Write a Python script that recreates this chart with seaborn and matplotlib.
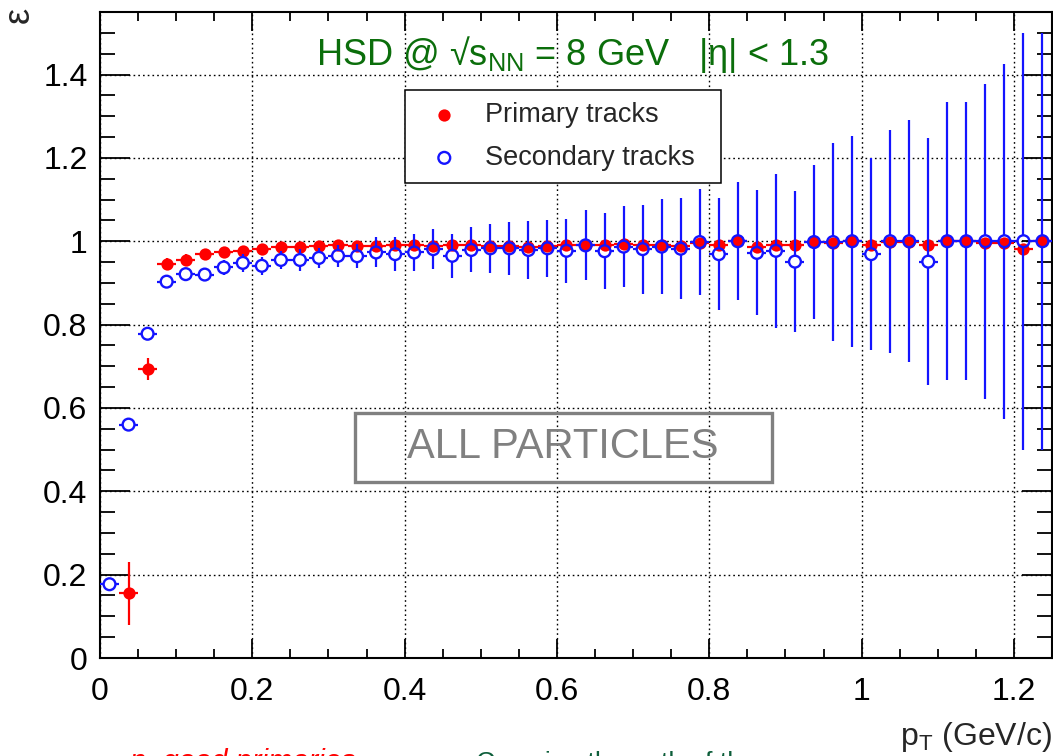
import numpy as np
import matplotlib
matplotlib.use("Agg")
import matplotlib.pyplot as plt
from matplotlib.patches import Rectangle
from matplotlib.ticker import MultipleLocator, FuncFormatter
import seaborn as sns

# transverse-momentum bin centres (GeV/c), 0.025 wide bins
pt = [0.0125, 0.0375, 0.0625, 0.0875, 0.1125, 0.1375, 0.1625, 0.1875, 0.2125, 0.2375,
      0.2625, 0.2875, 0.3125, 0.3375, 0.3625, 0.3875, 0.4125, 0.4375, 0.4625, 0.4875,
      0.5125, 0.5375, 0.5625, 0.5875, 0.6125, 0.6375, 0.6625, 0.6875, 0.7125, 0.7375,
      0.7625, 0.7875, 0.8125, 0.8375, 0.8625, 0.8875, 0.9125, 0.9375, 0.9625, 0.9875,
      1.0125, 1.0375, 1.0625, 1.0875, 1.1125, 1.1375, 1.1625, 1.1875, 1.2125, 1.2375]
pt_halfwidth = 0.0125

# reconstruction efficiency of primary tracks
prim_eff = [np.nan, 0.155, 0.694, 0.945, 0.956, 0.969, 0.975, 0.977, 0.981, 0.986,
            0.987, 0.988, 0.991, 0.989, 0.989, 0.992, 0.992, 0.989, 0.990, 0.991,
            0.988, 0.989, 0.986, 0.989, 0.990, 0.991, 0.991, 0.994, 0.991, 0.991,
            0.988, 0.995, 0.991, 1.000, 0.987, 0.991, 0.992, 0.997, 0.995, 1.000,
            0.991, 0.997, 0.997, 0.991, 1.000, 1.000, 0.995, 0.995, 0.981, 1.000]
prim_err = [np.nan, 0.075, 0.027, 0.015, 0.013, 0.011, 0.010, 0.009, 0.008, 0.007,
            0.007, 0.007, 0.007, 0.007, 0.007, 0.007, 0.007, 0.007, 0.007, 0.007,
            0.008, 0.008, 0.008, 0.008, 0.008, 0.008, 0.008, 0.008, 0.008, 0.008,
            0.008, 0.008, 0.009, 0.009, 0.009, 0.009, 0.010, 0.010, 0.010, 0.010,
            0.010, 0.010, 0.010, 0.010, 0.010, 0.010, 0.010, 0.010, 0.011, 0.011]

# reconstruction efficiency of secondary tracks
sec_eff = [0.177, 0.560, 0.778, 0.903, 0.921, 0.920, 0.937, 0.948, 0.941, 0.955,
           0.955, 0.960, 0.965, 0.964, 0.973, 0.969, 0.973, 0.981, 0.965, 0.979,
           0.983, 0.983, 0.979, 0.983, 0.977, 0.990, 0.976, 0.987, 0.981, 0.987,
           0.982, 0.998, 0.969, 1.000, 0.972, 0.977, 0.951, 0.998, 0.998, 1.000,
           0.969, 1.000, 1.000, 0.951, 1.000, 1.000, 1.000, 1.000, 1.000, 1.000]
sec_err = [0.006, 0.008, 0.012, 0.016, 0.015, 0.016, 0.018, 0.021, 0.022, 0.022,
           0.027, 0.024, 0.026, 0.029, 0.036, 0.040, 0.044, 0.048, 0.053, 0.054,
           0.059, 0.063, 0.069, 0.069, 0.077, 0.084, 0.091, 0.098, 0.107, 0.114,
           0.121, 0.128, 0.134, 0.141, 0.150, 0.185, 0.169, 0.185, 0.237, 0.253,
           0.230, 0.267, 0.290, 0.297, 0.333, 0.333, 0.378, 0.426, 0.500, 0.500]

x_ticks_major = [0, 0.2, 0.4, 0.6, 0.8, 1.0, 1.2]
y_ticks_major = [0, 0.2, 0.4, 0.6, 0.8, 1.0, 1.2, 1.4]

RED = "#ff0000"
BLUE = "#1414ff"
GREEN = "#0b6e0b"
GREY = "#808080"

sns.set_theme(style="ticks")
plt.rcParams["font.family"] = ["Liberation Sans", "DejaVu Sans"]
plt.rcParams["mathtext.fontset"] = "custom"
plt.rcParams["mathtext.rm"] = "Liberation Sans"
plt.rcParams["mathtext.it"] = "Liberation Sans:italic"
plt.rcParams["mathtext.bf"] = "Liberation Sans:bold"

fig = plt.figure(figsize=(10.53, 7.56), dpi=100)
ax = fig.add_axes([100 / 1053, 98 / 756, 952 / 1053, 646 / 756])

ax.set_xlim(0, 1.25)
ax.set_ylim(0, 1.55)

pt_a = np.asarray(pt)
pe = np.asarray(prim_eff)
perr = np.asarray(prim_err)
se = np.asarray(sec_eff)
serr = np.asarray(sec_err)

# primary tracks: full red markers with error crosses
ax.errorbar(pt_a, pe, xerr=pt_halfwidth, yerr=perr, fmt="none", ecolor=RED,
            elinewidth=1.6, capsize=0, zorder=3)
sns.scatterplot(x=pt_a, y=pe, ax=ax, color=RED, s=78, marker="o",
                linewidth=0, zorder=4, label="Primary tracks")

# secondary tracks: open blue markers, error lines stop at the marker edge
gap_x = 0.0072
gap_y = 0.0132
lw_err = 1.6
m = serr > gap_y
ax.vlines(pt_a[m], se[m] + gap_y, se[m] + serr[m], color=BLUE, lw=lw_err, zorder=5)
ax.vlines(pt_a[m], se[m] - serr[m], se[m] - gap_y, color=BLUE, lw=lw_err, zorder=5)
ax.hlines(se, pt_a - pt_halfwidth, pt_a - gap_x, color=BLUE, lw=lw_err, zorder=5)
ax.hlines(se, pt_a + gap_x, pt_a + pt_halfwidth, color=BLUE, lw=lw_err, zorder=5)
sns.scatterplot(x=pt_a, y=se, ax=ax, marker="o", s=72, facecolors="none",
                edgecolor=BLUE, linewidth=1.7, zorder=6, label="Secondary tracks")

# axes styling
for sp in ax.spines.values():
    sp.set_visible(True)
    sp.set_linewidth(1.5)
    sp.set_color("black")
ax.xaxis.set_minor_locator(MultipleLocator(0.05))
ax.yaxis.set_minor_locator(MultipleLocator(0.05))
ax.set_xticks(x_ticks_major)
ax.set_yticks(y_ticks_major)
fmt = FuncFormatter(lambda v, p: f"{v:g}")
ax.xaxis.set_major_formatter(fmt)
ax.yaxis.set_major_formatter(fmt)
ax.tick_params(axis="both", which="both", direction="in", top=True, right=True,
               colors="black", labelsize=23, width=1.3)
ax.tick_params(axis="x", which="major", length=13.5, pad=14)
ax.tick_params(axis="x", which="minor", length=6.5)
ax.tick_params(axis="y", which="major", length=21.5, pad=9)
ax.tick_params(axis="y", which="minor", length=10.8)
ax.grid(which="major", color="black", linestyle=(0, (1.2, 2.2)), linewidth=1.0, zorder=0)
ax.set_axisbelow(True)

ax.set_xlabel(r"p$_{\mathregular{T}}$ (GeV/c)", fontsize=23, ha="right", va="baseline")
ax.xaxis.set_label_coords(1.0, -0.135)
ax.set_ylabel("ε", fontsize=26, rotation=90, ha="right", va="center")
ax.yaxis.set_label_coords(-0.085, 1.008)

# header
ax.text(0.4968, 0.918, r"HSD @ √s$_{\mathregular{NN}}$ = 8 GeV   |η| < 1.3",
        transform=ax.transAxes, ha="center", va="baseline", fontsize=26, color=GREEN)

# legend
leg = ax.legend(loc="upper left", bbox_to_anchor=(0.3204, 0.7477, 0.3319, 0.1316),
                mode="expand", borderaxespad=0, frameon=True, fancybox=False,
                edgecolor="black", framealpha=1, fontsize=19.5, handletextpad=0.5,
                borderpad=0.45, labelspacing=0.62, handlelength=2.0)
leg.get_frame().set_linewidth(1.1)

# label box
ax.add_patch(Rectangle((0.2679, 0.2724), 0.438, 0.1068, transform=ax.transAxes,
                       fill=False, edgecolor=GREY, linewidth=2.4, zorder=7))
ax.text(0.4864, 0.3259, "ALL PARTICLES", transform=ax.transAxes, ha="center",
        va="center", fontsize=30, color=GREY, zorder=8)

# slide text running on below the figure edge
fig.text(130 / 1053, -0.018, "n  good primaries", color=RED, fontsize=21,
         style="italic", ha="left", va="baseline")
fig.text(476 / 1053, -0.018, "Crossing the path of th", color="#0d5e3a",
         fontsize=19, ha="left", va="baseline")

fig.savefig("out.png", dpi=100)
